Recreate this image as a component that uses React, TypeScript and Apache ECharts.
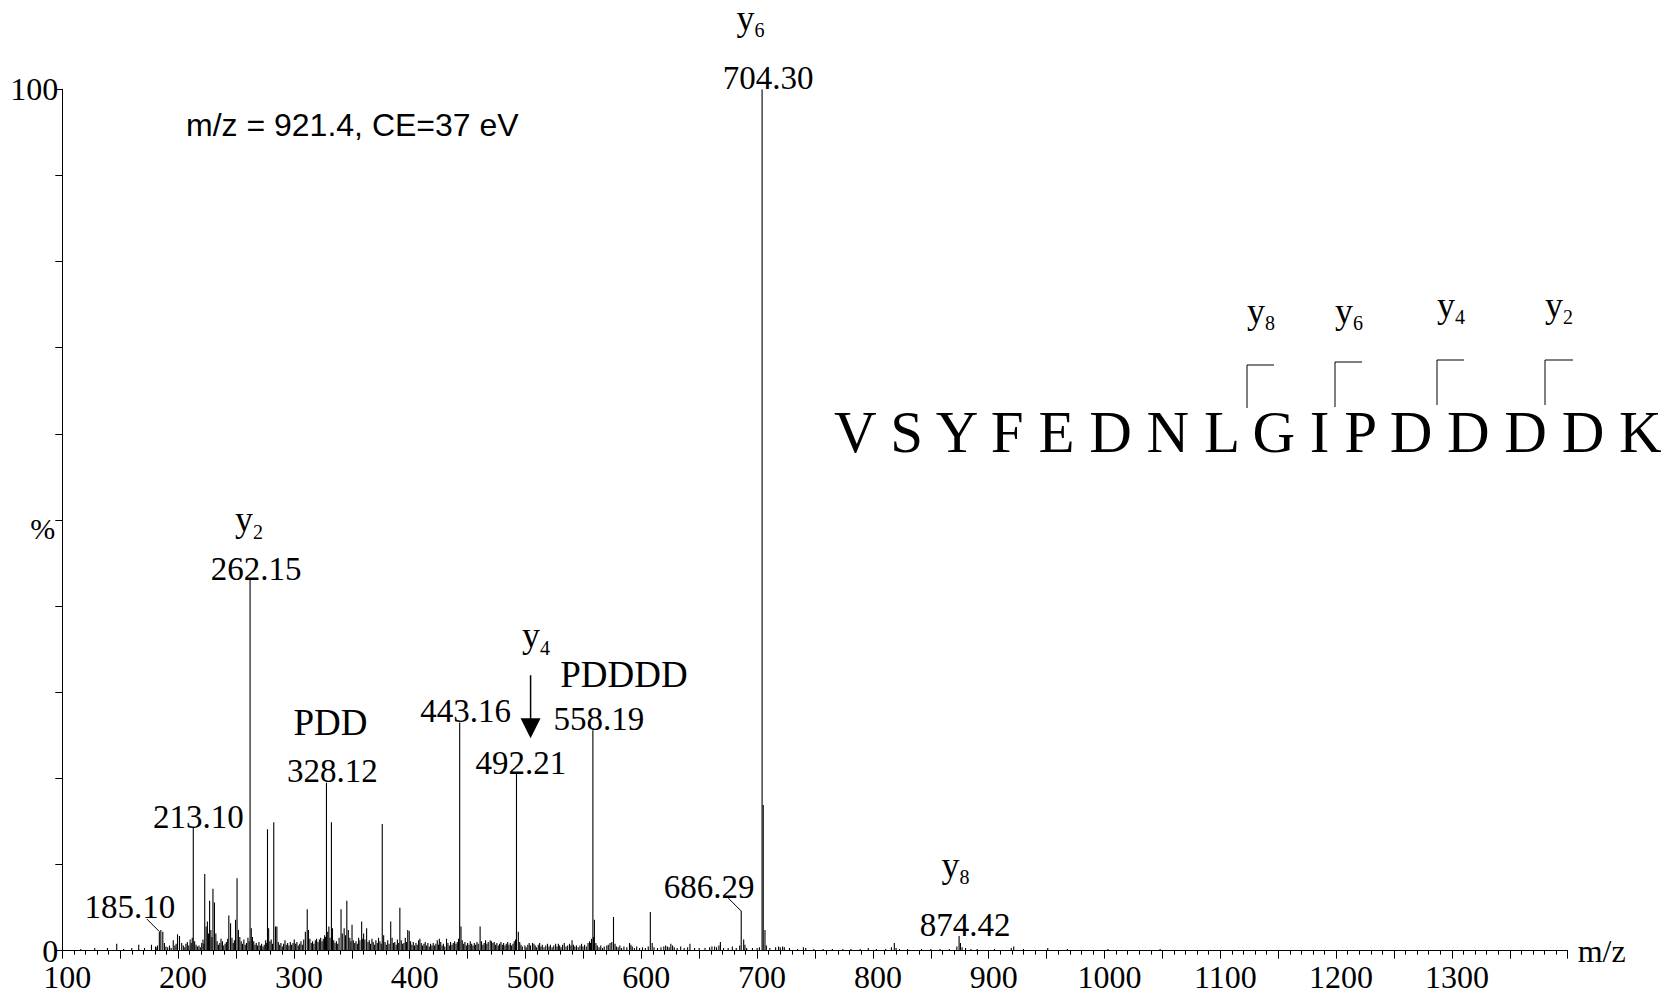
import React, { useEffect, useRef } from "react";
import * as echarts from "echarts";

const SERIF = '"Liberation Serif", "Times New Roman", Times, serif';
const SANS = '"Liberation Sans", Arial, Helvetica, sans-serif';

// ---- data: labelled peaks (m/z, relative intensity %) ----
const labeledMz = [185.1, 213.1, 262.15, 328.12, 443.16, 492.21, 558.19, 686.29, 704.3, 874.42];
const labeledIntensity = [2.4, 14.4, 43.1, 19.5, 26.5, 20.6, 25.6, 4.6, 100, 1.7];
const labeledText = ["185.10", "213.10", "262.15", "328.12", "443.16", "492.21", "558.19", "686.29", "704.30", "874.42"];

// ---- other visible peaks ----
const secondaryPeaks: [number, number][] = [
  [183.8, 2.2], [186.8, 2.2], [195.8, 1.2], [199.5, 1.9], [201.2, 1.7], [210.4, 1.3], [212.2, 1.5],
  [223.0, 8.9], [224.2, 2.8], [225.3, 3.4], [227.2, 5.8], [228.3, 2.4], [230.1, 7.2], [231.4, 5.6],
  [232.6, 2.0], [243.8, 4.1], [245.3, 3.2], [249.6, 3.6], [250.9, 8.4], [252.1, 2.4], [263.2, 2.6],
  [264.2, 1.6], [277.2, 14.1], [278.2, 2.6], [282.6, 14.9], [284.1, 2.8], [285.3, 2.8], [309.9, 2.2],
  [311.5, 4.8], [312.6, 2.4], [329.2, 2.2], [330.2, 2.8], [332.4, 14.9], [333.3, 2.6], [340.7, 4.8],
  [343.4, 2.6], [345.7, 5.8], [347, 2.4], [350.2, 3.0], [358.5, 3.4], [360.2, 2.0], [362.8, 2.6],
  [376.3, 14.7], [377.5, 1.8], [383.6, 3.4], [391.5, 5.0], [398.3, 2.4], [399.6, 2.3], [408.8, 1.4],
  [425.6, 1.4], [431.8, 1.4], [444.3, 2.8], [460.8, 2.8], [469.5, 1.2], [493.8, 2.2], [506, 0.9],
  [528.4, 0.8], [540.2, 1.2], [557.0, 1.4], [558.8, 1.6], [559.5, 3.6], [573, 0.9], [576, 3.9],
  [589.8, 0.9], [607.8, 4.5], [609.4, 0.9], [619.4, 0.5], [625.5, 0.8], [642, 0.8], [663.3, 0.5],
  [668.3, 1.0], [678.6, 0.5], [688.4, 1.3], [705.3, 16.9], [706.8, 2.4], [818.5, 0.9], [875.6, 0.9],
  [921.6, 0.5],
];

// ---- baseline noise, region by region ----
const noise100to180: [number, number][] = [
  [116, 0.2], [128, 0.3], [139, 0.3], [147, 0.8], [153, 0.2], [160, 0.3], [166, 0.7], [171, 0.3],
  [177, 0.7], [181, 0.4],
];
const noise180to300: [number, number][] = [
  [180.5, 0.5], [182.2, 0.6], [188.2, 0.9], [189.5, 0.5], [191, 0.4], [192.6, 0.6], [194, 0.3],
  [197.2, 0.6], [198.3, 0.8], [203.1, 0.9], [204.5, 0.6], [205.8, 0.4], [206.8, 0.8], [208, 1.0],
  [209.2, 0.6], [211.3, 0.9], [214.3, 1.1], [215.5, 0.7], [216.7, 0.5], [218, 0.6], [219.2, 0.4],
  [220.4, 0.9], [221.5, 1.3], [222.3, 0.8], [226.2, 2.0], [229.2, 1.6], [233.7, 1.1], [234.8, 0.7],
  [236, 0.9], [237.1, 1.4], [238.3, 1.1], [239.4, 0.6], [240.6, 0.8], [241.7, 1.0], [242.8, 1.4],
  [246.5, 1.5], [247.6, 0.9], [248.6, 1.2], [253.3, 1.6], [254.5, 1.1], [255.6, 0.8], [256.8, 1.3],
  [258, 0.7], [259.1, 0.9], [260.3, 1.5], [261.3, 1.1], [265.3, 1.1], [266.4, 0.7], [267.5, 0.9],
  [268.6, 0.6], [269.8, 1.0], [271, 0.6], [272.1, 0.8], [273.3, 0.5], [274.4, 0.7], [275.6, 1.2],
  [276.5, 0.9], [279.3, 1.1], [280.4, 1.3], [281.5, 0.8], [286.5, 1.0], [287.7, 0.7], [288.8, 0.9],
  [290, 0.5], [291.1, 0.8], [292.3, 1.2], [293.4, 0.7], [294.6, 0.9], [295.7, 0.6], [296.9, 1.0],
  [298, 0.7], [299.2, 0.9],
];
const noise300to420: [number, number][] = [
  [300.3, 1.3], [301.5, 0.8], [302.6, 1.0], [303.8, 0.6], [305, 0.8], [306.1, 1.1], [307.3, 0.7],
  [308.5, 1.3], [313.8, 1.4], [315, 0.9], [316.1, 1.1], [317.3, 0.8], [318.5, 1.2], [319.6, 1.4],
  [320.8, 1.0], [322, 1.3], [323.1, 1.5], [324.3, 1.1], [325.4, 1.4], [326.5, 1.8], [327.3, 1.6],
  [331.2, 1.5], [334.4, 1.2], [335.5, 0.9], [336.7, 1.1], [337.8, 0.8], [339, 1.5], [341.8, 2.0],
  [344.5, 1.8], [348.3, 1.5], [349.2, 1.1], [351.3, 1.2], [352.5, 0.9], [353.6, 1.1], [354.8, 0.8],
  [355.9, 1.5], [357, 1.2], [359.4, 1.4], [361.3, 1.3], [364, 1.0], [365.1, 1.2], [366.2, 0.8],
  [367.4, 1.4], [368.5, 1.0], [369.7, 0.7], [370.8, 1.2], [372, 0.9], [373.1, 1.5], [374.3, 1.1],
  [375.4, 0.8], [378.7, 1.0], [379.8, 0.7], [381, 1.2], [382.2, 0.8], [384.8, 1.5], [386, 0.9],
  [387.1, 1.0], [388.3, 0.7], [389.4, 1.3], [390.5, 0.9], [392.7, 1.2], [393.9, 0.8], [395, 0.9],
  [396.2, 1.5], [397.3, 1.0], [400.8, 1.1], [401.9, 0.7], [403.1, 1.0], [404.2, 0.6], [405.4, 0.9],
  [406.5, 0.7], [407.7, 1.2], [410, 0.9], [411.1, 0.6], [412.3, 0.8], [413.4, 1.0], [414.6, 0.6],
  [415.7, 0.9], [416.9, 0.5], [418, 0.8], [419.2, 0.6],
];
const noise420to560: [number, number][] = [
  [420.3, 0.9], [421.5, 0.6], [422.6, 0.8], [423.8, 1.2], [424.9, 0.7], [426.8, 1.0], [428, 0.6],
  [429.1, 0.8], [430.3, 0.5], [433, 0.9], [434.2, 0.6], [435.3, 1.0], [436.5, 0.7], [437.6, 0.9],
  [438.8, 1.1], [440, 0.8], [441.1, 1.0], [442.2, 1.4], [445.4, 1.2], [446.6, 0.8], [447.7, 1.0],
  [448.9, 0.6], [450, 0.9], [451.2, 0.7], [452.3, 1.1], [453.5, 0.8], [454.6, 0.6], [455.8, 0.9],
  [456.9, 0.7], [458.1, 1.0], [459.2, 0.8], [462, 1.1], [463.2, 0.7], [464.3, 0.9], [465.5, 1.2],
  [466.6, 0.8], [467.8, 1.0], [470.7, 1.1], [471.9, 0.9], [473, 1.0], [474.2, 0.7], [475.3, 0.9],
  [476.5, 0.6], [477.6, 0.8], [478.8, 1.0], [480, 0.7], [481.1, 0.9], [482.3, 0.6], [483.4, 0.8],
  [484.6, 1.0], [485.7, 0.7], [486.9, 0.9], [488, 0.6], [489.2, 0.8], [490.3, 1.1], [491.4, 1.3],
  [495, 1.0], [496.1, 0.7], [497.3, 0.5], [499.5, 0.6], [500.6, 0.4], [502, 0.7], [503.2, 0.9],
  [504.3, 0.6], [507.3, 0.8], [508.4, 0.6], [509.6, 0.4], [511, 0.7], [512.2, 0.9], [513.3, 0.5],
  [514.5, 0.7], [516, 0.4], [517.5, 0.6], [519, 0.8], [520.3, 0.5], [521.5, 0.7], [523, 0.4],
  [524.4, 0.6], [526, 0.8], [527.2, 0.5], [529.5, 0.6], [530.7, 0.4], [532, 0.7], [533.5, 0.9],
  [535, 0.5], [536.4, 0.6], [538, 0.8], [539.2, 0.6], [541.4, 0.7], [542.6, 0.5], [544, 0.6],
  [545.5, 0.4], [547, 0.6], [548.4, 0.8], [549.6, 0.5], [551, 0.7], [552.5, 0.5], [554, 0.9],
  [555.3, 1.1], [556.2, 0.9],
];
const noise560to725: [number, number][] = [
  [560.8, 0.9], [562, 0.6], [563.5, 0.4], [565, 0.6], [566.5, 0.3], [568, 0.5], [570.2, 0.6],
  [571.5, 0.7], [574.5, 1.0], [577.3, 0.8], [578.5, 0.5], [580, 0.4], [581.5, 0.6], [583, 0.3],
  [585, 0.5], [587.5, 0.4], [591, 0.7], [592.2, 0.5], [594, 0.3], [596, 0.5], [598.5, 0.3],
  [601, 0.4], [603.5, 0.3], [606, 0.5], [611, 0.4], [614, 0.3], [617, 0.4], [621, 0.6], [622.5, 0.5],
  [624, 0.4], [627, 0.6], [628.5, 0.4], [631, 0.3], [634, 0.5], [637, 0.3], [640, 0.4], [646, 0.3],
  [650, 0.3], [655, 0.3], [659, 0.4], [661, 0.5], [665, 0.4], [667, 0.6], [671, 0.3], [675, 0.3],
  [682, 0.3], [685, 0.6], [689.5, 0.7], [691, 0.3], [696, 0.3], [700, 0.3], [702, 0.4], [708, 0.6],
  [711, 0.3], [716, 0.4], [718.5, 0.5], [720, 0.4], [722, 0.5], [723.5, 0.4],
];
const noise725to1400: [number, number][] = [
  [728, 0.3], [735, 0.2], [740, 0.4], [742, 0.3], [749, 0.2], [757, 0.2], [765, 0.2], [774, 0.2],
  [781, 0.2], [789, 0.2], [796, 0.3], [803, 0.2], [811, 0.2], [816, 0.4], [820, 0.3], [823, 0.2],
  [830, 0.2], [842, 0.2], [850, 0.2], [858, 0.2], [866, 0.2], [872.5, 0.5], [877, 0.4], [880, 0.3],
  [884.6, 0.2], [890, 0.2], [905, 0.2], [919.5, 0.3], [930, 0.2], [951, 0.3], [968, 0.2], [1003, 0.2],
  [1048, 0.2],
];

// ---- axis tick labels ----
const xTickLabels = [100, 200, 300, 400, 500, 600, 700, 800, 900, 1000, 1100, 1200, 1300];
const yTickLabels: Record<number, string> = { 0: "0", 100: "100" };
const yAxisName = "%";

// ---- text annotations ----
const sequence = ["V", "S", "Y", "F", "E", "D", "N", "L", "G", "I", "P", "D", "D", "D", "D", "K"];
const title = "m/z = 921.4, CE=37 eV";

export default function App() {
  const ref = useRef<HTMLDivElement>(null);

  useEffect(() => {
    if (!ref.current) return;
    const chart = echarts.init(ref.current, undefined, { renderer: "svg" });

    const labeled: [number, number][] = labeledMz.map((m, i) => [m, labeledIntensity[i]]);
    const allPeaks = [
      ...noise100to180,
      ...noise180to300,
      ...noise300to420,
      ...noise420to560,
      ...noise560to725,
      ...noise725to1400,
      ...secondaryPeaks,
      ...labeled,
    ];

    chart.setOption({
      animation: false,
      backgroundColor: "#fff",
      grid: {
        left: 62.3,
        top: 89.3,
        width: 1505.4,
        height: 861.4,
        containLabel: false,
        outerBoundsMode: "none",
      },
      xAxis: {
        type: "value",
        min: 100,
        max: 1400,
        interval: 50,
        axisLine: { show: true, onZero: false, lineStyle: { color: "#000", width: 1 } },
        axisTick: { show: true, length: 8, lineStyle: { color: "#000", width: 1 } },
        minorTick: { show: true, splitNumber: 5, length: 4, lineStyle: { color: "#000", width: 1 } },
        splitLine: { show: false },
        minorSplitLine: { show: false },
        axisLabel: {
          formatter: (v: number) => (xTickLabels.includes(v) ? String(v) : ""),
          fontFamily: SERIF,
          fontSize: 32,
          color: "#000",
          margin: 10,
          padding: [0, 0, 0, 10],
          showMaxLabel: true,
          showMinLabel: true,
        },
        name: "m/z",
        nameLocation: "end",
        nameGap: 10,
        nameTextStyle: {
          fontFamily: SERIF,
          fontSize: 32,
          color: "#000",
          align: "left",
          verticalAlign: "middle",
          padding: [12, 0, 0, 0],
        },
      },
      yAxis: {
        type: "value",
        min: 0,
        max: 100,
        interval: 10,
        axisLine: { show: true, onZero: false, lineStyle: { color: "#000", width: 1 } },
        axisTick: { show: true, length: 7, lineStyle: { color: "#000", width: 1 } },
        splitLine: { show: false },
        axisLabel: {
          formatter: (v: number) => yTickLabels[v] ?? "",
          fontFamily: SERIF,
          fontSize: 32,
          color: "#000",
          margin: 4,
          padding: [10, 0, 0, 0],
          showMaxLabel: true,
          showMinLabel: true,
        },
        name: yAxisName,
        nameLocation: "middle",
        nameRotate: 0,
        nameGap: 7,
        nameMoveOverlap: false,
        nameTextStyle: {
          fontFamily: SERIF,
          fontSize: 30,
          lineHeight: 16,
          color: "#000",
          align: "right",
          verticalAlign: "top",
        },
      },
      series: [
        {
          type: "custom",
          silent: true,
          clip: true,
          encode: { x: 0, y: 1 },
          data: allPeaks,
          renderItem: (_p: any, api: any) => {
            const b = api.coord([api.value(0), 0]);
            const t = api.coord([api.value(0), api.value(1)]);
            return {
              type: "line",
              shape: { x1: b[0], y1: b[1], x2: t[0], y2: t[1] },
              style: { stroke: "#000", lineWidth: 1.1 },
            };
          },
        },
      ],
    });

    const px = (m: number, v: number) =>
      chart.convertToPixel({ xAxisIndex: 0, yAxisIndex: 0 }, [m, v]) as number[];

    const g: any[] = [];
    const txt = (x: number, y: number, text: string, font: string, align = "center", lh?: number) => {
      const style: any = { text, font, fill: "#000", align, verticalAlign: "middle" };
      if (lh) style.lineHeight = lh;
      g.push({ type: "text", x, y, silent: true, style });
    };
    const seg = (x1: number, y1: number, x2: number, y2: number, w = 1) => {
      g.push({
        type: "line",
        silent: true,
        shape: { x1, y1, x2, y2 },
        style: { stroke: "#000", lineWidth: w },
      });
    };
    // ion label "y" with subscript; (xl, baseline) of the "y"
    const ion = (xl: number, base: number, sub: string) => {
      txt(xl, base - 12.2, "y", `36px ${SERIF}`, "left", 28);
      txt(xl + 18, base + 7 - 6.75, sub, `20px ${SERIF}`, "left", 20);
    };

    // peak number labels
    const numberOffsets: Record<string, [number, number]> = {
      "185.10": [-31, -23],
      "686.29": [-32, -24],
      "492.21": [4.5, -10],
      "262.15": [6, -10],
      "213.10": [5, -10],
    };
    labeledMz.forEach((m, i) => {
      const [x, y] = px(m, labeledIntensity[i]);
      const off = numberOffsets[labeledText[i]] ?? [6, -11.5];
      txt(x + off[0], y + off[1], labeledText[i], `33px ${SERIF}`);
    });

    // leader lines
    {
      const [x, y] = px(185.1, 2.4);
      seg(x - 14, y - 11, x - 1.5, y + 1.5);
    }
    {
      const [x, y] = px(686.29, 4.6);
      seg(x - 13, y - 13, x, y);
    }

    // ion & fragment labels in the spectrum
    {
      const [x, y] = px(262.15, 43.1);
      ion(x - 15, y - 48, "2");
    }
    {
      const [x, y] = px(704.3, 100);
      ion(x - 25.7, y - 59.5, "6");
    }
    {
      const [x, y] = px(874.42, 1.7);
      ion(x - 17.5, y - 59, "8");
    }
    {
      const [x, y] = px(328.12, 19.5);
      txt(x + 4, y - 60.5, "PDD", `37px ${SERIF}`);
    }
    {
      const [x, y] = px(558.19, 25.6);
      txt(x + 31, y - 56, "PDDDD", `37px ${SERIF}`);
    }
    {
      const [x, y] = px(492.21, 20.6);
      ion(x + 5.4, y - 126, "4");
      const ax = x + 14.1;
      seg(ax, y - 98, ax, y - 54, 1.5);
      g.push({
        type: "polygon",
        silent: true,
        shape: { points: [[ax - 10, y - 55], [ax + 10, y - 55], [ax, y - 35]] },
        style: { fill: "#000" },
      });
    }

    // title
    txt(186, 125, title, `32px ${SANS}`, "left");

    // peptide sequence with y-ion brackets
    txt(834, 432, sequence.join(" "), `59px ${SERIF}`, "left");
    const brackets: [number, number, number, number, string, number][] = [
      [1247, 365, 408, 1274, "8", 323],
      [1335, 362, 407, 1362, "6", 323],
      [1437, 360, 405, 1464, "4", 317],
      [1545, 360, 405, 1573, "2", 317],
    ];
    brackets.forEach(([bx, top, bot, right, sub, base]) => {
      seg(bx, top, bx, bot);
      seg(bx, top, right, top);
      ion(bx, base, sub);
    });

    chart.setOption({ graphic: g });

    return () => chart.dispose();
  }, []);

  return (
    <div
      ref={ref}
      style={{ position: "fixed", left: 0, top: 0, width: 1665, height: 995, background: "#fff" }}
    />
  );
}
